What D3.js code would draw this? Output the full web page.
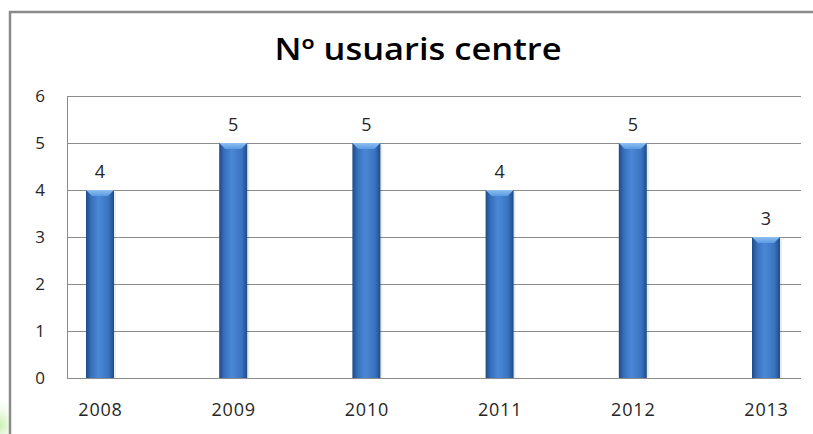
<!DOCTYPE html>
<html>
<head>
<meta charset="utf-8">
<script src="https://cdn.jsdelivr.net/npm/d3@7"></script>
<style>
  body { margin: 0; background: #fff; }
  svg { display: block; }
</style>
</head>
<body>
<div id="chart"></div>
<script>
// data
const years = ['2008', '2009', '2010', '2011', '2012', '2013'];
const users = [4, 5, 5, 4, 5, 3];
const yTicks = [0, 1, 2, 3, 4, 5, 6];
const title = 'Nº usuaris centre';

const W = 813, H = 434;
const plot = {left: 67, right: 801, top: 96, bottom: 378};
const labelFont = '"Open Sans", sans-serif';

const svg = d3.select('#chart').append('svg')
    .attr('width', W)
    .attr('height', H);

const defs = svg.append('defs');

// body of the bar: dark edges, lighter middle
let bodyGrad = defs.append('linearGradient')
    .attr('id', 'barBody')
    .attr('x1', '0%').attr('x2', '100%').attr('y1', '0%').attr('y2', '0%');
bodyGrad.append('stop').attr('offset', '0%').attr('stop-color', '#1d4a86');
bodyGrad.append('stop').attr('offset', '18%').attr('stop-color', '#3670bb');
bodyGrad.append('stop').attr('offset', '45%').attr('stop-color', '#4a88d6');
bodyGrad.append('stop').attr('offset', '80%').attr('stop-color', '#3a74c0');
bodyGrad.append('stop').attr('offset', '100%').attr('stop-color', '#1f4c88');

let capGrad = defs.append('linearGradient')
    .attr('id', 'barCap')
    .attr('x1', '0%').attr('x2', '0%').attr('y1', '0%').attr('y2', '100%');
capGrad.append('stop').attr('offset', '0%').attr('stop-color', '#8fc0f2');
capGrad.append('stop').attr('offset', '100%').attr('stop-color', '#5a9ae2');

let greenGrad = defs.append('radialGradient').attr('id', 'greenBlob');
greenGrad.append('stop').attr('offset', '0%').attr('stop-color', '#c8f0b0');
greenGrad.append('stop').attr('offset', '100%').attr('stop-color', '#ffffff').attr('stop-opacity', 0);

// bit of green background peeking at bottom-left
svg.append('ellipse')
    .attr('cx', 0).attr('cy', 425)
    .attr('rx', 22).attr('ry', 30)
    .attr('fill', 'url(#greenBlob)');

// outer frame of the chart (runs past the right and bottom edges)
svg.append('rect')
    .attr('x', 10).attr('y', 12)
    .attr('width', W + 20).attr('height', H + 20)
    .attr('fill', '#fff')
    .attr('stroke', '#8a8a8a')
    .attr('stroke-width', 2.5);

svg.append('text')
    .attr('x', 418)
    .attr('y', 60)
    .attr('text-anchor', 'middle')
    .attr('font-family', labelFont)
    .attr('font-weight', 600)
    .attr('font-size', 30)
    .attr('textLength', 287)
    .attr('lengthAdjust', 'spacingAndGlyphs')
    .attr('fill', '#000')
    .text(title);

const x = d3.scalePoint()
    .domain(years)
    .range([100, 766]);

const y = d3.scaleLinear()
    .domain([0, 6])
    .range([plot.bottom, plot.top]);

// gridlines
svg.append('g')
    .selectAll('line')
    .data(yTicks)
    .enter()
    .append('line')
        .attr('x1', plot.left)
        .attr('x2', plot.right)
        .attr('y1', d => Math.round(y(d)) + 0.5)
        .attr('y2', d => Math.round(y(d)) + 0.5)
        .attr('stroke', '#8c8c8c')
        .attr('stroke-width', 1);

svg.append('line')
    .attr('x1', plot.left + 0.5).attr('x2', plot.left + 0.5)
    .attr('y1', plot.top).attr('y2', plot.bottom)
    .attr('stroke', '#8c8c8c');

// y axis labels
let yAxis = svg.append('g')
    .attr('transform', 'translate(' + (plot.left - 22) + ',0)')
    .call(d3.axisLeft(y).tickValues(yTicks).tickSize(0).tickPadding(0).tickFormat(d3.format('d')));
yAxis.select('.domain').remove();
yAxis.selectAll('text')
    .attr('font-family', labelFont)
    .attr('font-size', 17)
    .attr('fill', '#262626');

// x axis labels
let xAxis = svg.append('g')
    .attr('transform', 'translate(0,' + plot.bottom + ')')
    .call(d3.axisBottom(x).tickSize(0).tickPadding(25));
xAxis.select('.domain').remove();
xAxis.selectAll('text')
    .attr('font-family', labelFont)
    .attr('font-size', 18)
    .attr('letter-spacing', 0.8)
    .attr('fill', '#262626');

const barW = 28;
let bars = svg.append('g')
    .selectAll('g')
    .data(users)
    .enter()
    .append('g');

// soft shadow right of the bar
bars.append('rect')
    .attr('x', (d, i) => x(years[i]) - barW / 2 + 2)
    .attr('y', d => y(d) + 2)
    .attr('width', barW)
    .attr('height', d => plot.bottom - y(d) - 2)
    .attr('fill', '#000')
    .attr('opacity', 0.08);

bars.append('rect')
    .attr('x', (d, i) => x(years[i]) - barW / 2)
    .attr('y', d => y(d))
    .attr('width', barW)
    .attr('height', d => plot.bottom - y(d))
    .attr('fill', 'url(#barBody)');

// bevelled top
bars.append('path')
    .attr('d', (d, i) => {
        let x0 = x(years[i]) - barW / 2, y0 = y(d);
        return 'M' + x0 + ',' + y0 + 'h' + barW + 'l-6,6h' + (-(barW - 12)) + 'Z';
    })
    .attr('fill', 'url(#barCap)');

// value labels
bars.append('text')
    .attr('x', (d, i) => x(years[i]))
    .attr('y', d => y(d) - 12)
    .attr('text-anchor', 'middle')
    .attr('font-family', labelFont)
    .attr('font-size', 18)
    .attr('fill', '#262626')
    .text(d => d);
</script>
</body>
</html>
